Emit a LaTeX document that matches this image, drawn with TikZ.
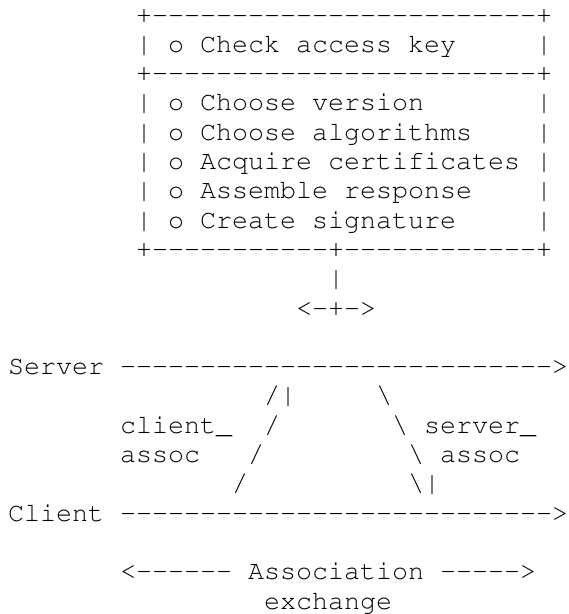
\documentclass[tikz,border=0pt]{standalone}
\usepackage[T1]{fontenc}
\usepackage{courier}
\newcommand\courfont{\fontencoding{T1}\fontfamily{pcr}\fontseries{m}\fontshape{n}\fontsize{20}{22}\selectfont}
\tikzset{
  ch/.style={anchor=base west,inner sep=0pt,outer sep=0pt,font=\courfont,text=black},
}
\begin{document}
\begin{tikzpicture}[x=12pt,y=-21.975pt]
\useasboundingbox (0pt,0pt) rectangle (426.5pt,-460.5pt);
\begin{scope}[shift={(0.5,0.785)}]
% box top border (line 0)
\node[ch] (topL) at (8,0) {+};
\foreach \c in {9,...,32} \node[ch] (topd\c) at (\c,0) {-};
\node[ch] (topR) at (33,0) {+};
% line 1
\node[ch] (l1L) at (8,1) {|};
\node[ch] (check) at (10,1) {o Check access key};
\node[ch] (l1R) at (33,1) {|};
% line 2
\node[ch] (midL) at (8,2) {+};
\foreach \c in {9,...,32} \node[ch] (midd\c) at (\c,2) {-};
\node[ch] (midR) at (33,2) {+};
% lines 3-7
\node[ch] (l3L) at (8,3) {|};
\node[ch] (version) at (10,3) {o Choose version};
\node[ch] (l3R) at (33,3) {|};
\node[ch] (l4L) at (8,4) {|};
\node[ch] (algs) at (10,4) {o Choose algorithms};
\node[ch] (l4R) at (33,4) {|};
\node[ch] (l5L) at (8,5) {|};
\node[ch] (certs) at (10,5) {o Acquire certi{}f{}icates};
\node[ch] (l5R) at (33,5) {|};
\node[ch] (l6L) at (8,6) {|};
\node[ch] (resp) at (10,6) {o Assemble response};
\node[ch] (l6R) at (33,6) {|};
\node[ch] (l7L) at (8,7) {|};
\node[ch] (sig) at (10,7) {o Create signature};
\node[ch] (l7R) at (33,7) {|};
% line 8
\node[ch] (botL) at (8,8) {+};
\foreach \c in {9,...,19} \node[ch] (botd\c) at (\c,8) {-};
\node[ch] (botM) at (20,8) {+};
\foreach \c in {21,...,32} \node[ch] (botd\c) at (\c,8) {-};
\node[ch] (botR) at (33,8) {+};
% line 9, 10
\node[ch] (stem) at (20,9) {|};
\node[ch] (tl) at (18,10) {<};
\node[ch] (tld) at (19,10) {-};
\node[ch] (tm) at (20,10) {+};
\node[ch] (trd) at (21,10) {-};
\node[ch] (tr) at (22,10) {>};
% Server line 12
\node[ch] (server) at (0,12) {Server};
\foreach \c in {7,...,33} \node[ch] (sd\c) at (\c,12) {-};
\node[ch] (sarrow) at (34,12) {>};
% line 13
\node[ch] (a1) at (16,13) {/};
\node[ch] (a1h) at (17,13) {|};
\node[ch] (b1) at (23,13) {\textbackslash};
% line 14
\node[ch] (clientlab) at (7,14) {client\_};
\node[ch] (a2) at (16,14) {/};
\node[ch] (b2) at (24,14) {\textbackslash};
\node[ch] (serverlab) at (26,14) {server\_};
% line 15
\node[ch] (assocl) at (7,15) {assoc};
\node[ch] (a3) at (15,15) {/};
\node[ch] (b3) at (25,15) {\textbackslash};
\node[ch] (assocr) at (27,15) {assoc};
% line 16
\node[ch] (a4) at (14,16) {/};
\node[ch] (b4) at (25,16) {\textbackslash};
\node[ch] (b4h) at (26,16) {|};
% Client line 17
\node[ch] (client) at (0,17) {Client};
\foreach \c in {7,...,33} \node[ch] (cd\c) at (\c,17) {-};
\node[ch] (carrow) at (34,17) {>};
% line 19
\node[ch] (el) at (7,19) {<};
\foreach \c in {8,...,13} \node[ch] (eld\c) at (\c,19) {-};
\node[ch] (assoc) at (15,19) {Association};
\foreach \c in {27,...,31} \node[ch] (erd\c) at (\c,19) {-};
\node[ch] (er) at (32,19) {>};
% line 20
\node[ch] (exch) at (16,20) {exchange};
\end{scope}
\end{tikzpicture}
\end{document}
